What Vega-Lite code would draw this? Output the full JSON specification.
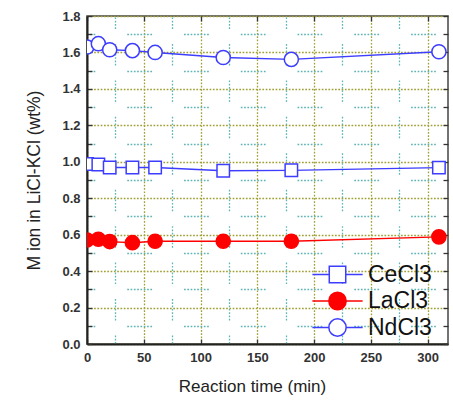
{
  "$schema": "https://vega.github.io/schema/vega-lite/v6.json",
  "width": 361,
  "height": 328,
  "autosize": "none",
  "padding": {"left": 87, "top": 16, "right": 5, "bottom": 57},
  "background": "white",
  "config": {
    "view": {"stroke": "#444", "strokeWidth": 1.5},
    "axis": {
      "labelFont": "Liberation Sans",
      "labelFontWeight": "bold",
      "labelFontSize": 13,
      "labelColor": "#333",
      "titleFont": "Liberation Sans",
      "titleFontWeight": "normal",
      "titleFontSize": 17,
      "titleColor": "#222",
      "domainColor": "#222",
      "domainWidth": 2,
      "tickColor": "#333",
      "tickWidth": 1.3,
      "labelOverlap": false,
      "labelFlush": false
    },
    "legend": {
      "title": null, "orient": "none", "legendX": 239, "legendY": 247,
      "padding": 0, "rowPadding": 1.5, "symbolOffset": 0, "labelOffset": 19,
      "labelFont": "Liberation Sans", "labelFontSize": 23, "labelColor": "#111",
      "symbolStrokeWidth": 1.5, "symbolSize": 300, "symbolOpacity": 1
    }
  },
  "data": {
    "values": [
      {"time": 0, "value": 0.988, "series": "CeCl3"},
      {"time": 10, "value": 0.985, "series": "CeCl3"},
      {"time": 20, "value": 0.969, "series": "CeCl3"},
      {"time": 40, "value": 0.969, "series": "CeCl3"},
      {"time": 60, "value": 0.969, "series": "CeCl3"},
      {"time": 120, "value": 0.951, "series": "CeCl3"},
      {"time": 180, "value": 0.953, "series": "CeCl3"},
      {"time": 310, "value": 0.968, "series": "CeCl3"},
      {"time": 0, "value": 0.571, "series": "LaCl3"},
      {"time": 10, "value": 0.575, "series": "LaCl3"},
      {"time": 20, "value": 0.562, "series": "LaCl3"},
      {"time": 40, "value": 0.556, "series": "LaCl3"},
      {"time": 60, "value": 0.564, "series": "LaCl3"},
      {"time": 120, "value": 0.564, "series": "LaCl3"},
      {"time": 180, "value": 0.564, "series": "LaCl3"},
      {"time": 310, "value": 0.588, "series": "LaCl3"},
      {"time": 0, "value": 1.63, "series": "NdCl3"},
      {"time": 10, "value": 1.648, "series": "NdCl3"},
      {"time": 20, "value": 1.615, "series": "NdCl3"},
      {"time": 40, "value": 1.61, "series": "NdCl3"},
      {"time": 60, "value": 1.6, "series": "NdCl3"},
      {"time": 120, "value": 1.572, "series": "NdCl3"},
      {"time": 180, "value": 1.562, "series": "NdCl3"},
      {"time": 310, "value": 1.604, "series": "NdCl3"}
    ]
  },
  "layer": [
    {
      "mark": {"type": "line", "strokeWidth": 1.4, "clip": true},
      "encoding": {
        "x": {
          "field": "time", "type": "quantitative",
          "scale": {"domain": [0, 318], "nice": false, "zero": false},
          "axis": {
            "orient": "bottom",
            "title": "Reaction time (min)",
            "titleX": 165,
            "values": [0, 25, 50, 75, 100, 125, 150, 175, 200, 225, 250, 275, 300],
            "labelExpr": "datum.value % 50 == 0 ? datum.label : ''",
            "tickSize": -5,
            "tickOpacity": {"condition": {"test": "datum.value % 50 == 0", "value": 1}, "value": 0},
            "labelPadding": 12,
            "titlePadding": 14,
            "grid": true,
            "gridColor": {"condition": {"test": "datum.value % 50 == 0", "value": "#a0a036"}, "value": "#5fb5b5"},
            "gridWidth": 1.3,
            "gridDash": {"condition": {"test": "datum.value % 50 == 0", "value": [1.7, 1.6]}, "value": [1.7, 1.6, 1.7, 1.6, 1.7, 1.6, 1.7, 1.6, 1.7, 1.6, 1.7, 1.6, 1.7, 14.94]},
            "gridDashOffset": {"condition": {"test": "datum.value % 50 == 0", "value": 0}, "value": 9}
          }
        },
        "y": {
          "field": "value", "type": "quantitative",
          "scale": {"domain": [0, 1.8], "nice": false},
          "axis": {
            "orient": "left",
            "title": "M ion in LiCl-KCl (wt%)",
            "titleFontSize": 17.5,
            "values": [0, 0.1, 0.2, 0.3, 0.4, 0.5, 0.6, 0.7, 0.8, 0.9, 1.0, 1.1, 1.2, 1.3, 1.4, 1.5, 1.6, 1.7, 1.8],
            "labelExpr": "round(datum.value * 10) % 2 == 0 ? format(datum.value, '.1f') : ''",
            "tickSize": -5,
            "labelPadding": 12,
            "titlePadding": 18,
            "grid": true,
            "gridColor": {"condition": {"test": "round(datum.value * 10) % 2 == 0", "value": "#a0a036"}, "value": "#5fb5b5"},
            "gridWidth": 1.3,
            "gridDash": {"condition": {"test": "round(datum.value * 10) % 2 == 0", "value": [1.7, 1.6]}, "value": [1.7, 1.6, 1.7, 1.6, 1.7, 1.6, 1.7, 1.6, 1.7, 1.6, 1.7, 1.6, 1.7, 1.6, 1.7, 31.96]},
            "gridDashOffset": {"condition": {"test": "round(datum.value * 10) % 2 == 0", "value": 0}, "value": 17}
          }
        },
        "color": {
          "field": "series", "type": "nominal",
          "scale": {"domain": ["CeCl3", "LaCl3", "NdCl3"], "range": ["#3d3dff", "#ff0000", "#3d3dff"]}
        }
      }
    },
    {
      "transform": [{"filter": "datum.series === 'CeCl3'"}],
      "mark": {"type": "point", "shape": "M-0.88,-0.88H0.88V0.88H-0.88Z", "filled": false, "size": 200, "strokeWidth": 1.5, "opacity": 1, "clip": true},
      "encoding": {
        "x": {
          "field": "time", "type": "quantitative",
          "axis": {"orient": "top", "title": null, "labels": false, "domain": false, "grid": false, "values": [0, 50, 100, 150, 200, 250, 300], "tickSize": -5}
        },
        "y": {
          "field": "value", "type": "quantitative",
          "axis": {"orient": "right", "title": null, "labels": false, "domain": false, "grid": false, "values": [0, 0.1, 0.2, 0.3, 0.4, 0.5, 0.6, 0.7, 0.8, 0.9, 1.0, 1.1, 1.2, 1.3, 1.4, 1.5, 1.6, 1.7, 1.8], "tickSize": -5}
        },
        "color": {"field": "series", "type": "nominal"},
        "fill": {
          "field": "series", "type": "nominal",
          "scale": {"domain": ["CeCl3", "LaCl3", "NdCl3"], "range": ["white", "#ff0000", "white"]}
        }
      }
    },
    {
      "transform": [{"filter": "datum.series !== 'CeCl3'"}],
      "mark": {"type": "point", "shape": "circle", "filled": false, "size": 200, "strokeWidth": 1.5, "opacity": 1, "clip": true},
      "encoding": {
        "x": {"field": "time", "type": "quantitative", "axis": null},
        "y": {"field": "value", "type": "quantitative", "axis": null},
        "color": {"field": "series", "type": "nominal"},
        "fill": {"field": "series", "type": "nominal"}
      }
    },
    {
      "transform": [{"filter": "datum.time < 0"}],
      "mark": {"type": "point", "filled": false, "size": 300, "strokeWidth": 1.5, "opacity": 1, "clip": true},
      "encoding": {
        "x": {"field": "time", "type": "quantitative", "axis": null},
        "y": {"field": "value", "type": "quantitative", "axis": null},
        "color": {"field": "series", "type": "nominal"},
        "fill": {"field": "series", "type": "nominal"},
        "shape": {
          "field": "series", "type": "nominal",
          "scale": {"domain": ["CeCl3", "LaCl3", "NdCl3"], "range": ["M-2.9,0H-0.95M0.95,0H2.9M-0.95,-0.95H0.95V0.95H-0.95Z", "M-2.9,0H-1M1,0H2.9M-1,0A1,1,0,1,1,1,0A1,1,0,1,1,-1,0Z", "M-2.9,0H-1M1,0H2.9M-1,0A1,1,0,1,1,1,0A1,1,0,1,1,-1,0Z"]}
        }
      }
    }
  ],
  "resolve": {"axis": {"x": "independent", "y": "independent"}}
}
